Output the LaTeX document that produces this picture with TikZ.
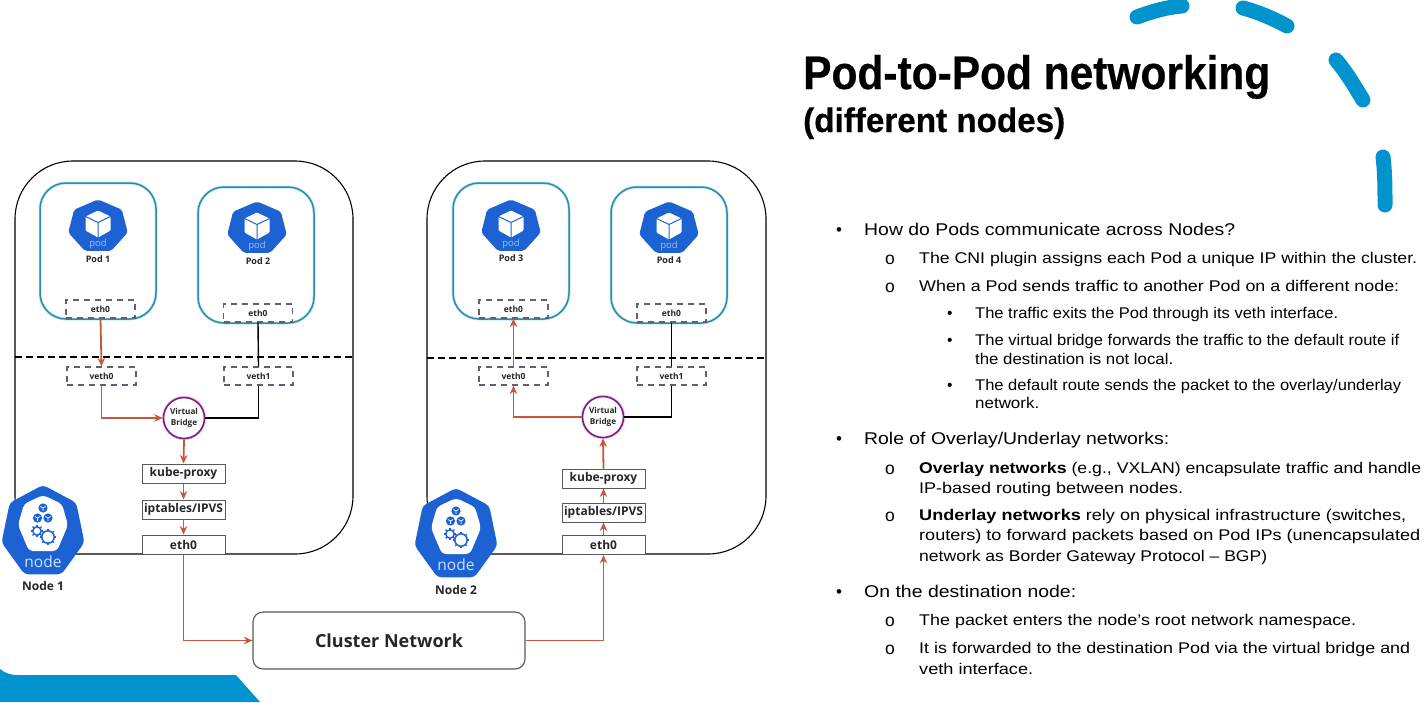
\documentclass[tikz,border=0pt]{standalone}
\usepackage{fontspec}
\usepackage{graphicx}
\setmainfont{Liberation Sans}
\newfontfamily\dgm{Open Sans}
\newfontfamily\ttlf[BoldFeatures={FakeBold=0.5}]{Liberation Sans}
\usetikzlibrary{arrows.meta,calc}
\definecolor{skyb}{HTML}{0093CE}
\definecolor{kube}{HTML}{1C62D2}
\definecolor{rline}{HTML}{C9553C}
\definecolor{podline}{HTML}{2E8CA8}
\definecolor{podglow}{HTML}{BDEBF5}
\definecolor{brg}{HTML}{7A1F7F}
\definecolor{brgglow}{HTML}{F6C6F2}
\definecolor{dashg}{HTML}{5F6072}
\definecolor{ink}{HTML}{262626}
\definecolor{podtxt}{HTML}{9DBDF5}
\definecolor{nodetxt}{HTML}{CFE0FA}
\newcommand{\fitw}[2]{\resizebox{#1pt}{\height}{#2}}
\newcommand{\hept}[2]{(0,-#2)--(.782*#1,-.623*#2)--(.975*#1,.223*#2)--(.434*#1,.901*#2)--(-.434*#1,.901*#2)--(-.975*#1,.223*#2)--(-.782*#1,-.623*#2)--cycle}
\newcommand{\podicon}[2]{%
 \begin{scope}[shift={(#1,#2)}]
  \fill[kube,rounded corners=2pt] \hept{30.5}{27};
  \fill[white,rounded corners=1pt] (0,-16)--(12.5,-10)--(12.5,4)--(0,11)--(-12.5,4)--(-12.5,-10)--cycle;
  \draw[kube,line width=1pt] (-12.5,-10)--(0,-4)--(12.5,-10) (0,-4)--(0,11);
  \node[font=\dgm\fontsize{9.5}{10}\selectfont,text=podtxt,inner sep=0pt] at (0,17.5) {pod};
 \end{scope}}
\newcommand{\gear}[4]{%
 \draw[kube,line width=#4] (#1,#2) circle (#3);
 \foreach \a in {0,45,...,315}{\draw[kube,line width=1.3pt] ($(#1,#2)+(\a:#3)$)--($(#1,#2)+(\a:#3+2)$);}}
\newcommand{\minicube}[2]{%
 \fill[kube] (#1,#2) circle (4.6);
 \draw[white,line width=.7pt] (#1-2.6,#2-1.5)--(#1,#2)--(#1+2.6,#2-1.5) (#1,#2)--(#1,#2+3);}
\newcommand{\nodeicon}[2]{%
 \begin{scope}[shift={(#1,#2)}]
  \fill[kube,rounded corners=4pt] \hept{42.5}{47};
  \fill[white,rounded corners=4pt] (0,-37)--(19,-28)--(25,-7)--(14,19)--(-14,19)--(-25,-7)--(-19,-28)--cycle;
  \minicube{0}{-24}\minicube{-5.5}{-14}\minicube{5}{-14}
  \gear{-6}{-1}{4.2}{1.5pt}\gear{5}{5}{6.2}{1.5pt}
  \node[font=\dgm\fontsize{15.5}{16}\selectfont,text=nodetxt,inner sep=0pt] at (0,30) {node};
 \end{scope}}
\tikzset{
 x=1pt,y=-1pt,
 nodeoutline/.style={draw=black,line width=1.1pt,rounded corners=58pt},
 sep/.style={draw=black,line width=1.3pt,dash pattern=on 7pt off 4pt},
 podglowst/.style={draw=podglow,line width=3pt,rounded corners=26pt},
 podbox/.style={draw=podline,line width=1.5pt,rounded corners=26pt},
 dbox/.style={draw=dashg,line width=1.2pt,dash pattern=on 6pt off 5pt,fill=white,inner sep=0pt,minimum width=69pt,minimum height=18pt,font=\dgm\bfseries\fontsize{8.5}{9}\selectfont,text=ink},
 sbox/.style={draw=black!65,line width=1pt,fill=white,inner sep=0pt,minimum width=83pt,minimum height=19pt,font=\dgm\bfseries\fontsize{12}{13}\selectfont,text=ink},
 bridge/.style={circle,draw=brg,line width=1.6pt,fill=white,inner sep=0pt,minimum size=41pt,align=center,font=\dgm\bfseries\fontsize{8.2}{11.5}\selectfont,text=ink,preaction={draw=brgglow,line width=3.4pt}},
 lab/.style={font=\dgm\bfseries\fontsize{9}{10}\selectfont,text=ink,inner sep=0pt},
 nlab/.style={font=\dgm\bfseries\fontsize{12}{13}\selectfont,text=ink,inner sep=0pt},
 red/.style={draw=rline,line width=1.8pt},
 redar/.style={red,-{Stealth[length=8.5pt,width=7.5pt]}},
 blk/.style={draw=black,line width=1.4pt},
 arcst/.style={draw=skyb,line width=15pt,line cap=round},
 ln/.style={anchor=base west,inner sep=0pt,font=\fontsize{17}{18}\selectfont,text=black},
 ls/.style={anchor=base west,inner sep=0pt,font=\fontsize{15.5}{17}\selectfont,text=black},
 ob/.style={anchor=base west,inner sep=0pt,font=\fontsize{17.5}{18}\selectfont,text=black},
}
\begin{document}
\begin{tikzpicture}
\useasboundingbox (0,0) rectangle (1426,702);
% decoration
\fill[skyb] (0,669) .. controls (5,673) and (10,675) .. (18,675) -- (236,675) -- (260,702) -- (0,702) -- cycle;
\draw[arcst] (1137,17) .. controls (1153,11) and (1168,7) .. (1182,6);
\draw[arcst] (1243,8) .. controls (1258,12) and (1272,18) .. (1287,26);
\draw[arcst] (1336,60) .. controls (1347,73) and (1355,87) .. (1363,100);
\draw[arcst] (1383,157) .. controls (1385,173) and (1385,190) .. (1385,205);
% node outlines
\draw[nodeoutline] (15,161) rectangle (353,554);
\draw[nodeoutline] (427,161) rectangle (766,554);
\draw[sep] (15,357) -- (353,357);
\draw[sep] (427,358) -- (766,358);
% pods
\draw[podglowst] (40,183) rectangle (156,319);
\draw[podglowst] (198,187) rectangle (314,323);
\draw[podglowst] (453,183) rectangle (569,319);
\draw[podglowst] (611,187) rectangle (727,323);
\draw[podbox] (40,183) rectangle (156,319);
\draw[podbox] (198,187) rectangle (314,323);
\draw[podbox] (453,183) rectangle (569,319);
\draw[podbox] (611,187) rectangle (727,323);
\podicon{98}{226.5}\podicon{257}{228.5}\podicon{511}{226.5}\podicon{669}{228.5}
\node[lab] (p1) at (98,259) {Pod 1};
\node[lab] (p2) at (258,261) {Pod 2};
\node[lab] (p3) at (511,258) {Pod 3};
\node[lab] (p4) at (669,260) {Pod 4};
% interfaces
\node[dbox] (e1) at (100.5,309) {eth0};
\node[dbox] (e2) at (258,313) {eth0};
\node[dbox] (e3) at (513.5,309) {eth0};
\node[dbox] (e4) at (671.5,313) {eth0};
\node[dbox] (v1) at (101.5,376) {veth0};
\node[dbox] (v2) at (258.5,376) {veth1};
\node[dbox] (v3) at (513.5,376) {veth0};
\node[dbox] (v4) at (671.5,376) {veth1};
\node[bridge] (b1) at (184,418) {Virtual\\Bridge};
\node[bridge] (b2) at (603,417) {Virtual\\Bridge};
\node[sbox] (k1) at (183.5,473.5) {kube-proxy};
\node[sbox] (i1) at (183.5,509.5) {iptables/IPVS};
\node[sbox] (n1) at (183.5,544.5) {eth0};
\node[sbox] (k2) at (603.5,478.5) {kube-proxy};
\node[sbox] (i2) at (603.5,512.5) {iptables/IPVS};
\node[sbox] (n2) at (603.5,545) {eth0};
\node[draw=black!65,line width=1.1pt,rounded corners=10pt,fill=white,minimum width=272pt,minimum height=57pt,inner sep=0pt,font=\dgm\bfseries\fontsize{18}{20}\selectfont,text=ink] (cn) at (389,640.5) {Cluster Network};
% icons of the nodes
\nodeicon{43}{532}\nodeicon{456}{535}
\node[nlab] (l1) at (43,586) {Node 1};
\node[nlab] (l2) at (456,590) {Node 2};
% connectors
\draw[redar] (e1.south) -- (v1.north);
\draw[redar] (v1.south) |- (b1.west);
\draw[blk] (e2.south) -- (v2.north);
\draw[blk] (v2.south) |- (b1.east);
\draw[redar] (b1.south) -- (k1.north);
\draw[redar] (k1.south) -- (i1.north);
\draw[redar] (i1.south) -- (n1.north);
\draw[redar] (n1.south) |- (cn.west);
\draw[redar] (cn.east) -| (n2.south);
\draw[redar] (n2.north) -- (i2.south);
\draw[redar] (i2.north) -- (k2.south);
\draw[redar] (k2.north) -- (b2.south);
\draw[redar] (b2.west) -| (v3.south);
\draw[blk] (b2.east) -| (v4.south);
\draw[redar] (v3.north) -- (e3.south);
\draw[blk] (v4.north) -- (e4.south);
% title
\node[anchor=base west,inner sep=0pt,font=\ttlf\bfseries\fontsize{47}{48}\selectfont] (title) at (803,89) {\fitw{467}{Pod-to-Pod networking}};
\node[anchor=base west,inner sep=0pt,font=\ttlf\bfseries\fontsize{34}{35}\selectfont] (sub) at (803,132) {\fitw{262}{(different nodes)}};
% body
\node[ln] (b01) at (836,235) {•};
\node[ln] (t01) at (864,235) {\fitw{371}{How do Pods communicate across Nodes?}};
\node[ob] (b02) at (885,264) {o};
\node[ls] (t02) at (919,263) {\fitw{498}{The CNI plugin assigns each Pod a unique IP within the cluster.}};
\node[ob] (b03) at (885,292) {o};
\node[ls] (t03) at (919,291) {\fitw{480}{When a Pod sends traffic to another Pod on a different node:}};
\node[ls] (b04) at (947,318) {•};
\node[ls] (t04) at (975,318) {\fitw{363}{The traffic exits the Pod through its veth interface.}};
\node[ls] (b05) at (947,345) {•};
\node[ls] (t05) at (975,345) {\fitw{424}{The virtual bridge forwards the traffic to the default route if}};
\node[ls] (t06) at (975,364) {\fitw{198}{the destination is not local.}};
\node[ls] (b07) at (947,390) {•};
\node[ls] (t07) at (975,390) {\fitw{426}{The default route sends the packet to the overlay/underlay}};
\node[ls] (t08) at (975,408) {\fitw{64}{network.}};
\node[ln] (b09) at (836,444) {•};
\node[ln] (t09) at (864,444) {\fitw{305}{Role of Overlay/Underlay networks:}};
\node[ob] (b10) at (885,474) {o};
\node[ls] (t10) at (919,473) {\fitw{502}{\textbf{Overlay networks} (e.g., VXLAN) encapsulate traffic and handle}};
\node[ls] (t11) at (919,493) {\fitw{264}{IP-based routing between nodes.}};
\node[ob] (b12) at (885,521) {o};
\node[ls] (t12) at (919,520) {\fitw{487}{\textbf{Underlay networks} rely on physical infrastructure (switches,}};
\node[ls] (t13) at (919,540) {\fitw{501}{routers) to forward packets based on Pod IPs  (unencapsulated}};
\node[ls] (t14) at (919,561) {\fitw{348}{network as Border Gateway Protocol – BGP)}};
\node[ln] (b15) at (836,597) {•};
\node[ln] (t15) at (864,597) {\fitw{212}{On the destination node:}};
\node[ob] (b16) at (885,626) {o};
\node[ls] (t16) at (919,625) {\fitw{437}{The packet enters the node's root network namespace.}};
\node[ob] (b17) at (885,654) {o};
\node[ls] (t17) at (919,653) {\fitw{491}{It is forwarded to the destination Pod via the virtual bridge and}};
\node[ls] (t18) at (919,674) {\fitw{114}{veth interface.}};
\end{tikzpicture}
\end{document}
